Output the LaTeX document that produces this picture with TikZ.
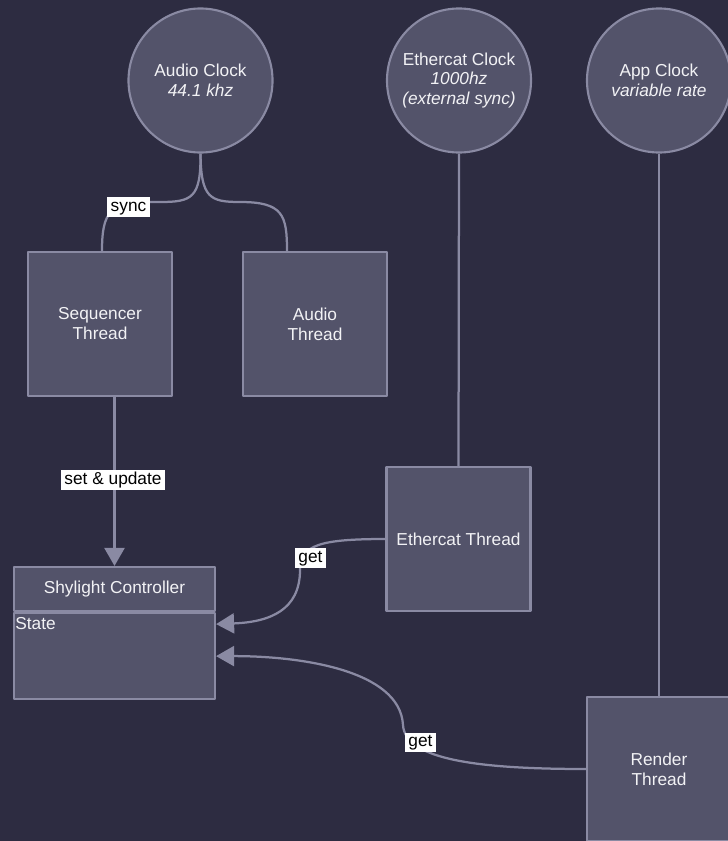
\documentclass[tikz,border=0pt]{standalone}
\usepackage{fontspec}
\setmainfont{Liberation Sans}
\usetikzlibrary{arrows.meta}
\definecolor{bgcol}{HTML}{2D2C41}
\definecolor{boxcol}{HTML}{53536A}
\definecolor{edgecol}{HTML}{8A8AA3}
\definecolor{txtcol}{HTML}{F2F2F5}
\newcommand{\dgfont}{\fontsize{12.3}{14.2}\selectfont}

\begin{document}
\begin{tikzpicture}[x=0.025cm, y=-0.025cm, >={Triangle[length=0.45cm,width=0.5cm]}, line join=round,
  clock/.style={circle, draw=edgecol, fill=boxcol, line width=1.5pt, minimum size=3.6cm, inner sep=0pt, text=txtcol, align=center, font=\dgfont},
  thread/.style={rectangle, draw=edgecol, fill=boxcol, line width=1.5pt, minimum width=3.6cm, minimum height=3.6cm, text=txtcol, align=center, font=\dgfont},
  link/.style={draw=edgecol, line width=1.6pt},
  lbl/.style={fill=white, text=black, inner xsep=2.4pt, inner ysep=1.2pt, text height=9pt, text depth=2.8pt, font=\dgfont}]
  \path[use as bounding box, fill=bgcol] (0,0) rectangle (728,841);
  % clocks
  \node[clock] (ac) at (200.5,80.5) {Audio Clock\\\textit{44.1 khz}};
  \node[clock] (ec) at (459,80.5) {Ethercat Clock\\\textit{1000hz}\\\textit{(external sync)}};
  \node[clock] (apc) at (659,80.5) {App Clock\\\textit{variable rate}};
  % threads
  \node[thread] (sq) at (100,324) {Sequencer\\Thread};
  \node[thread] (at) at (315,324) {Audio\\Thread};
  \node[thread] (et) at (458.5,539) {Ethercat Thread};
  \node[thread] (rt) at (659,769) {Render\\Thread};
  % controller
  \node[thread, minimum width=5.025cm, minimum height=1.1cm] (ctrl) at (114.5,589) {Shylight Controller};
  \node[thread, minimum width=5.025cm, minimum height=2.15cm, anchor=north] (ctrlb) at (ctrl.south) {};
  \node[anchor=north west, inner xsep=1.5pt, inner ysep=3.5pt, text=txtcol, font=\dgfont] (state) at (ctrlb.north west) {State};
  % connectors
  \draw[link] (ac.south) .. controls (201,198) and (192,202) .. (160,202) -- (150,202)
    .. controls (110,202) and (102,212) .. ([xshift=0.05cm]sq.north);
  \draw[link] (ac.south) .. controls (201,198) and (210,202) .. (240,202)
    .. controls (283,202) and (287,215) .. ([xshift=-0.7cm]at.north);
  \draw[link] (ec.south) -- (et.north);
  \draw[link] (apc.south) -- (rt.north);
  \draw[link,->] (ctrl.north |- sq.south) -- (ctrl.north);
  \draw[link,->] (et.west) .. controls (320,539) and (300,545) .. (300,570)
    .. controls (300,610) and (270,622) .. ([yshift=0.8cm]ctrlb.east);
  \draw[link,->] (rt.west) .. controls (480,769) and (405,760) .. (403,725)
    .. controls (400,670) and (300,656) .. (ctrlb.east);
  % labels
  \node[lbl] (lsync) at (128.5,207) {sync};
  \node[lbl] (lset) at (113,480) {set \& update};
  \node[lbl] (lget1) at (310.5,558) {get};
  \node[lbl] (lget2) at (420.5,742.5) {get};
\end{tikzpicture}
\end{document}
